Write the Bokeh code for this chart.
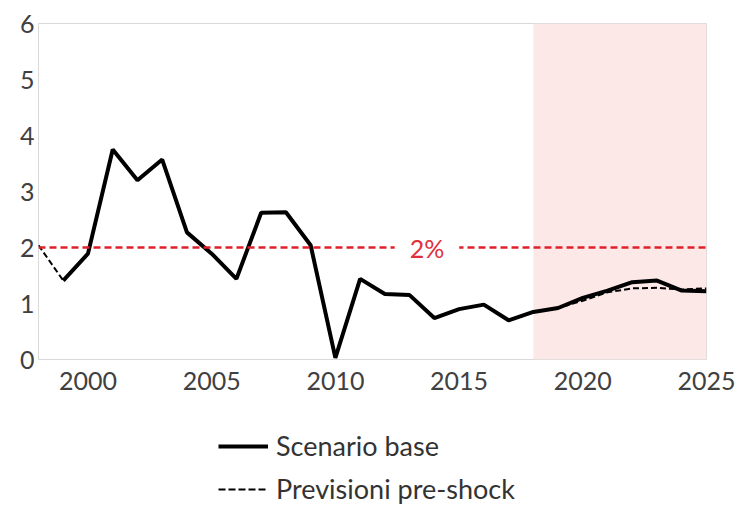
from bokeh.plotting import figure
from bokeh.layouts import column
from bokeh.models import Legend, LegendItem, BoxAnnotation, Span, Label, FixedTicker, Range1d
from bokeh.embed import file_html
from bokeh.resources import INLINE

# --- data ---
base_years = list(range(1999, 2026))
base_vals = [1.41, 1.89, 3.75, 3.20, 3.57, 2.27, 1.89, 1.44, 2.62, 2.63, 2.04, 0.03,
             1.44, 1.17, 1.15, 0.74, 0.90, 0.98, 0.70, 0.85, 0.92, 1.10, 1.23, 1.38,
             1.41, 1.23, 1.22]
pre_years = list(range(1998, 2026))
pre_vals = [2.04, 1.41, 1.89, 3.75, 3.20, 3.57, 2.27, 1.89, 1.44, 2.62, 2.63, 2.04, 0.03,
            1.44, 1.17, 1.15, 0.74, 0.90, 0.98, 0.70, 0.85, 0.92, 1.05, 1.20, 1.27,
            1.28, 1.25, 1.27]
series_labels = ["Scenario base", "Previsioni pre-shock"]
target = 2.0
target_label = "2%"
label_year = 2013.7
shade_start = 2018
shade_end = 2025
x_ticks = [2000, 2005, 2010, 2015, 2020, 2025]
y_ticks = [0, 1, 2, 3, 4, 5, 6]

FONT = "Lato"
TXT = "#404040"

p = figure(width=735, height=402, output_backend="svg", toolbar_location=None,
           x_range=Range1d(1998, 2025), y_range=Range1d(0, 6),
           min_border_left=38, min_border_right=29, min_border_top=23, min_border_bottom=43)
p.xgrid.visible = False
p.ygrid.visible = False
p.outline_line_color = "#d9d9d9"
p.outline_line_width = 1
p.background_fill_color = "white"
p.border_fill_color = "white"

for ax in (p.xaxis, p.yaxis):
    ax.axis_line_color = None
    ax.major_tick_line_color = None
    ax.minor_tick_line_color = None
    ax.major_tick_out = 0
    ax.major_tick_in = 0
    ax.minor_tick_out = 0
    ax.minor_tick_in = 0
    ax.major_label_text_font = FONT
    ax.major_label_text_font_size = "25px"
    ax.major_label_text_color = TXT
p.xaxis.ticker = FixedTicker(ticks=x_ticks)
p.yaxis.ticker = FixedTicker(ticks=y_ticks)
p.xaxis.major_label_standoff = 12
p.yaxis.major_label_standoff = 4

p.add_layout(BoxAnnotation(left=shade_start, right=shade_end, fill_color="#fde8e8",
                           fill_alpha=1.0, line_color=None, level="underlay"))
p.add_layout(Span(location=target, dimension="width", line_color="#e0202a",
                  line_width=2.5, line_dash="7 4"))
p.add_layout(Label(x=label_year, y=target, text=target_label, text_align="center",
                   text_baseline="middle", text_font=FONT, text_font_size="25px",
                   text_color="#e0303a", background_fill_color="white",
                   padding=15))

p.line(pre_years, pre_vals, line_color="black", line_width=2, line_dash="6 3")
p.line(base_years, base_vals, line_color="black", line_width=4)

# legend panel below the chart (same series; the view range keeps them out of sight)
lg = figure(width=735, height=103, output_backend="svg", toolbar_location=None,
            x_range=Range1d(0, 1), y_range=Range1d(0, 1),
            x_axis_location=None, y_axis_location=None,
            min_border_left=0, min_border_right=0, min_border_top=0, min_border_bottom=0)
lg.xgrid.visible = False
lg.ygrid.visible = False
lg.outline_line_color = None
lg.border_fill_color = "white"
lg_base = lg.line(base_years, base_vals, line_color="black", line_width=4)
lg_pre = lg.line(pre_years, pre_vals, line_color="black", line_width=2, line_dash="7 3")

legend = Legend(items=[LegendItem(label=series_labels[0], renderers=[lg_base]),
                       LegendItem(label=series_labels[1], renderers=[lg_pre])],
                orientation="vertical", location=(180, 0),
                label_text_font=FONT, label_text_font_size="27px", label_text_color="#333333",
                glyph_width=50, glyph_height=20, label_standoff=8, spacing=10,
                border_line_color=None, background_fill_alpha=0, padding=0, margin=0)
lg.add_layout(legend, "center")

layout = column(p, lg, spacing=0)
open("out.html", "w").write(file_html(layout, INLINE))
